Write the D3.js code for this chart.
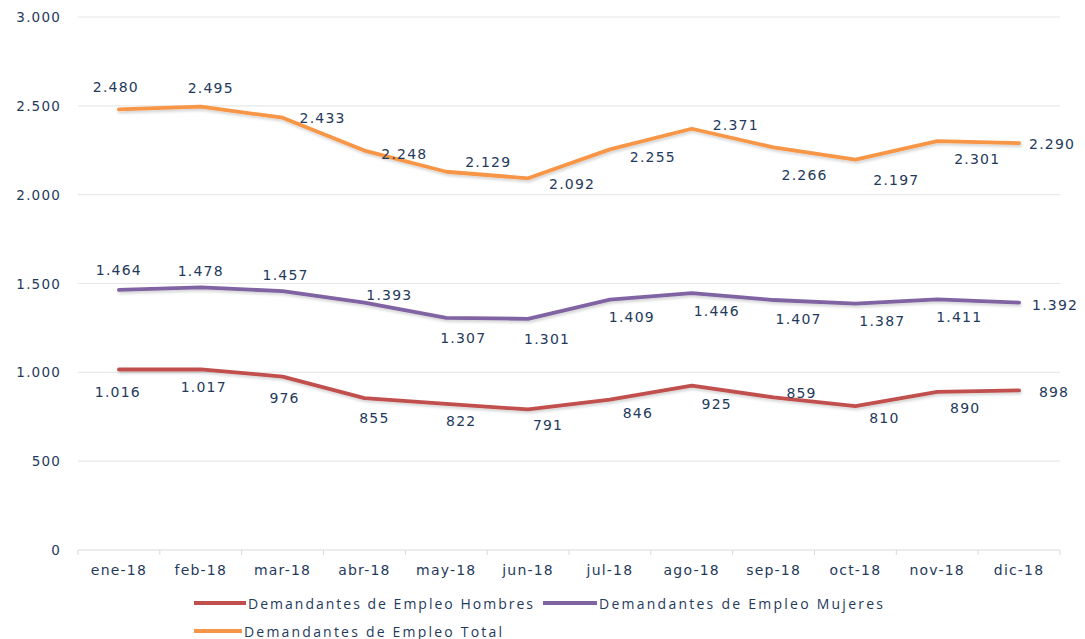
<!DOCTYPE html>
<html>
<head>
<meta charset="utf-8">
<script src="https://cdn.jsdelivr.net/npm/d3@7"></script>
<style>
  html, body { margin: 0; padding: 0; background: #ffffff; }
  svg { display: block; }
</style>
</head>
<body>
<svg id="chart" width="1085" height="639"></svg>
<script>
// ---- Data ----
const months = ["ene-18","feb-18","mar-18","abr-18","may-18","jun-18","jul-18","ago-18","sep-18","oct-18","nov-18","dic-18"];
const hombres = [1016,1017,976,855,822,791,846,925,859,810,890,898];
const mujeres = [1464,1478,1457,1393,1307,1301,1409,1446,1407,1387,1411,1392];
const total   = [2480,2495,2433,2248,2129,2092,2255,2371,2266,2197,2301,2290];
const yTicks  = [0,500,1000,1500,2000,2500,3000];
const seriesNames = ["Demandantes de Empleo Hombres","Demandantes de Empleo Mujeres","Demandantes de Empleo Total"];

// ---- Label placement (layout, offsets of label centre from point) ----
const totalLabelOff = [[-3,-22],[10,-19],[40,0],[40,3],[42,-10],[44,6],[43,8],[44,-4],[31,28],[41,20],[40,18],[33,1]];
const mujeresLabelOff = [[0,-20],[0,-16],[3,-16],[25,-8],[17,20],[19,20],[22,17],[25,18],[25,19],[27,17],[22,18],[36,2]];
const hombresLabelOff = [[-1,23],[3,18],[2,21],[10,20],[15,17],[20,16],[28,13],[25,18],[28,-4],[29,12],[28,16],[35,2]];

const fmt = v => d3.format(",")(v).replace(/,/g, ".");

const svg = d3.select("#chart");
const defs = svg.append("defs");
const f = defs.append("filter").attr("id", "shadow").attr("x", "-5%").attr("y", "-50%").attr("width", "110%").attr("height", "200%");
f.append("feDropShadow").attr("dx", 1).attr("dy", 2).attr("stdDeviation", 1.5).attr("flood-color", "#000").attr("flood-opacity", 0.18);

const x = d3.scaleBand().domain(months).range([78, 1060]);
const xc = m => x(m) + x.bandwidth() / 2;
const y = d3.scaleLinear().domain([0, 3000]).range([550, 17]);

const textColor = "#1f3a5c";

// gridlines
svg.append("g").selectAll("line").data(yTicks).join("line")
  .attr("x1", 78).attr("x2", 1060)
  .attr("y1", d => y(d)).attr("y2", d => y(d))
  .attr("stroke", d => d === 0 ? "#d9d9d9" : "#e8e8e8")
  .attr("stroke-width", 1.2);

// x axis tick marks at band boundaries
const bounds = months.map(m => x(m)).concat([x(months[months.length-1]) + x.bandwidth()]);
svg.append("g").selectAll("line").data(bounds).join("line")
  .attr("x1", d => d).attr("x2", d => d)
  .attr("y1", y(0)).attr("y2", y(0) + 5)
  .attr("stroke", "#d9d9d9").attr("stroke-width", 1);

// y tick labels
svg.append("g").selectAll("text").data(yTicks).join("text")
  .attr("x", 61).attr("y", d => y(d))
  .attr("text-anchor", "end").attr("dominant-baseline", "central")
  .attr("font-family", "DejaVu Sans").attr("font-size", 13.5)
  .attr("letter-spacing", 1.2)
  .attr("fill", textColor)
  .text(d => fmt(d));

// x tick labels
svg.append("g").selectAll("text").data(months).join("text")
  .attr("x", d => xc(d)).attr("y", 570)
  .attr("text-anchor", "middle").attr("dominant-baseline", "central")
  .attr("font-family", "DejaVu Sans").attr("font-size", 14)
  .attr("letter-spacing", 1.2)
  .attr("fill", textColor)
  .text(d => d);

const series = [
  { name: seriesNames[0], values: hombres, color: "#c0504d", off: hombresLabelOff },
  { name: seriesNames[1], values: mujeres, color: "#8064a2", off: mujeresLabelOff },
  { name: seriesNames[2], values: total,   color: "#f79646", off: totalLabelOff }
];

const line = d3.line().x((d, i) => xc(months[i])).y(d => y(d)).curve(d3.curveLinear);

series.forEach(s => {
  svg.append("path")
    .attr("d", line(s.values))
    .attr("fill", "none")
    .attr("stroke", s.color)
    .attr("stroke-width", 3.8)
    .attr("stroke-linejoin", "round")
    .attr("stroke-linecap", "round")
    .attr("filter", "url(#shadow)");
});

series.forEach(s => {
  svg.append("g").selectAll("text").data(s.values).join("text")
    .attr("x", (d, i) => xc(months[i]) + s.off[i][0])
    .attr("y", (d, i) => y(d) + s.off[i][1])
    .attr("text-anchor", "middle").attr("dominant-baseline", "central")
    .attr("font-family", "DejaVu Sans").attr("font-size", 14)
    .attr("letter-spacing", 1.2)
    .attr("fill", textColor)
    .text(d => fmt(d));
});

// legend
const legendItems = [
  { s: series[0], x: 194, y: 603, sw: 52, tw: 285 },
  { s: series[1], x: 543, y: 603, sw: 54, tw: 284 },
  { s: series[2], x: 194, y: 631, sw: 48, tw: 258 }
];
const lg = svg.append("g");
legendItems.forEach(it => {
  lg.append("line")
    .attr("x1", it.x).attr("x2", it.x + it.sw)
    .attr("y1", it.y).attr("y2", it.y)
    .attr("stroke", it.s.color).attr("stroke-width", 4);
  lg.append("text")
    .attr("x", it.x + it.sw + 2).attr("y", it.y)
    .attr("dominant-baseline", "central")
    .attr("font-family", "Open Sans").attr("font-size", 14)
    .attr("fill", textColor)
    .attr("textLength", it.tw).attr("lengthAdjust", "spacing")
    .text(it.s.name);
});
</script>
</body>
</html>
